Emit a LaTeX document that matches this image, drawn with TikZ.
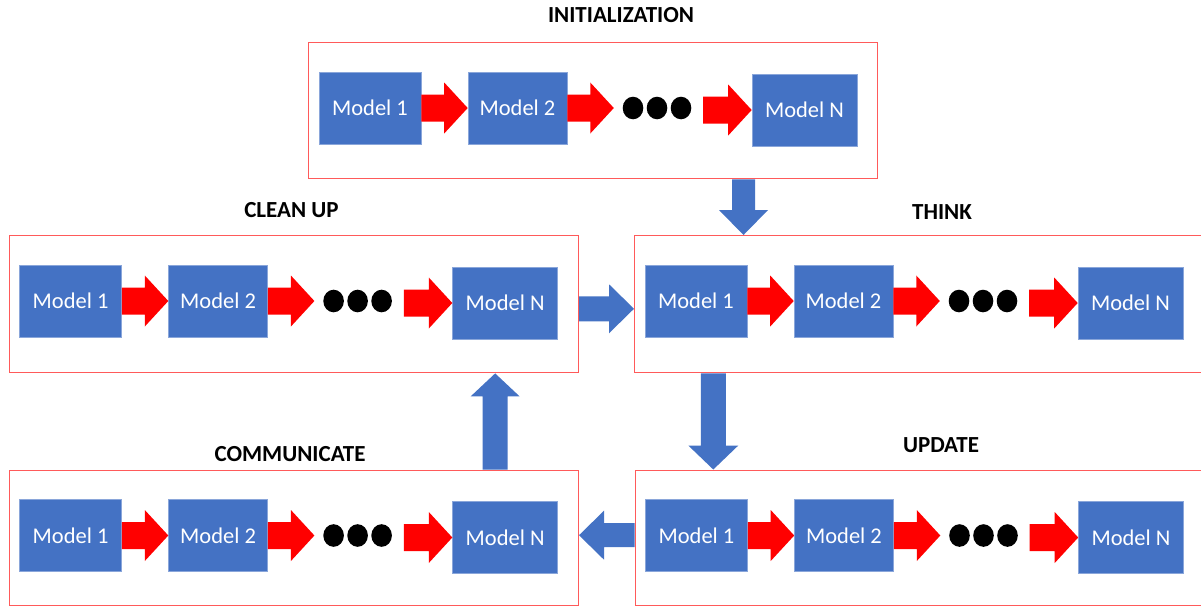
\documentclass[tikz,border=0pt]{standalone}
\usepackage{fontspec}
\setmainfont{Carlito}
\usetikzlibrary{calc}
\definecolor{mblue}{HTML}{4472C4}
\definecolor{frred}{HTML}{FF5A5A}
\definecolor{mline}{HTML}{8AA6DA}
\newcommand\blockarr[6]{%
  \coordinate (bah) at ($(#3)!#6!(#2)$);
  \fill[#1] ($(#2)!#4!90:(#3)$) -- ($(bah)!#4!90:(#3)$) -- ($(bah)!#5!90:(#3)$) -- (#3)
    -- ($(bah)!#5!-90:(#3)$) -- ($(bah)!#4!-90:(#3)$) -- ($(#2)!#4!-90:(#3)$) -- cycle;}
\newcommand\panel[4]{%
  \node[frame, minimum height=#4pt, anchor=north west] (#1) at (#2,#3) {};
  \node[model, minimum width=102pt] (#1a) at (#2+62,#3+66) {Model 1};
  \node[model, minimum width=99pt] (#1b) at (#2+209.5,#3+66) {Model 2};
  \node[dotsbox] (#1d) at (#2+350.5,#3+66) {};
  \foreach \dx in {-25.5,-1.5,22.5} \fill[black] ([xshift=\dx pt]#1d.center) ellipse [x radius=10.3pt, y radius=11.3pt];
  \node[model, minimum width=105pt] (#1n) at (#2+496.5,#3+68) {Model N};
  \blockarr{redarr}{#1a.east}{#1b.west}{13.5pt}{25.5pt}{23.5pt}
  \blockarr{redarr}{#1b.east}{#1d.west}{13.5pt}{25.5pt}{23.5pt}
  \blockarr{redarr}{#1d.east |- #1n.west}{#1n.west}{13.5pt}{25.5pt}{23.5pt}
}
\begin{document}
\begin{tikzpicture}[x=1pt,y=-1pt,
  frame/.style={draw=frred, line width=1.4pt, minimum width=569pt, inner sep=0pt},
  model/.style={fill=mblue, draw=mline, line width=0.6pt, text=white, font=\fontsize{22.5}{26}\selectfont, minimum height=72pt, inner sep=0pt},
  dotsbox/.style={minimum width=89pt, minimum height=24pt, inner sep=0pt},
  title/.style={font=\bfseries\fontsize{23}{27}\selectfont, inner sep=0pt},
  redarr/.style={fill=red},
  bluearr/.style={fill=mblue}]
\fill[white] (0,0) rectangle (1201,606);
\useasboundingbox (0,0) rectangle (1201,606);
\panel{init}{308}{42}{136}
\panel{clean}{8.6}{235}{137}
\panel{think}{634}{235}{137}
\panel{update}{634.5}{469.5}{135.5}
\panel{comm}{8.6}{469.5}{135.5}
\node[title] (tinit) at (621,15.5) {INITIALIZATION};
\node[title] (tclean) at (291.5,210) {CLEAN UP};
\node[title] (tthink) at (942,212) {THINK};
\node[title] (tupdate) at (941,445) {UPDATE};
\node[title] (tcomm) at (290,454) {COMMUNICATE};
\coordinate (a1) at ($(init.south west)!0.7635!(init.south east)$);
\coordinate (a2) at ($(clean.north east)!0.533!(clean.south east)$);
\coordinate (a3) at ($(think.south west)!0.139!(think.south east)$);
\coordinate (a4) at ($(update.north west)!0.48!(update.south west)$);
\coordinate (a5) at ($(comm.north west)!0.853!(comm.north east)$);
\blockarr{bluearr}{a1}{a1 |- think.north}{11.5pt}{24.5pt}{25pt}
\blockarr{bluearr}{a2}{a2 -| think.west}{12.5pt}{24.5pt}{25pt}
\blockarr{bluearr}{a3}{a3 |- update.north}{12.5pt}{25pt}{24pt}
\blockarr{bluearr}{a4}{a4 -| comm.east}{12pt}{24.5pt}{25pt}
\blockarr{bluearr}{a5}{a5 |- clean.south}{12.5pt}{24.5pt}{23pt}
\end{tikzpicture}
\end{document}
